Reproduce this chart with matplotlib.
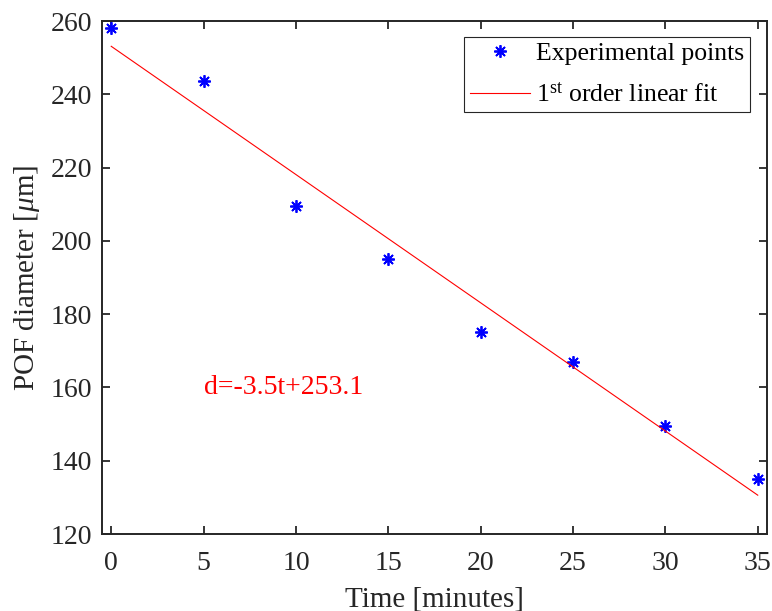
import numpy as np
import matplotlib
matplotlib.use('Agg')
import matplotlib.pyplot as plt

# measured data
time_min = [0, 5, 10, 15, 20, 25, 30, 35]
diameter_um = [258.0, 243.5, 209.5, 195.0, 175.0, 167.0, 149.5, 135.0]

# linear fit coefficients (as written on the chart)
slope = -3.5
intercept = 253.1
fit_label = 'd=-3.5t+253.1'

xticks = [0, 5, 10, 15, 20, 25, 30, 35]
yticks = [120, 140, 160, 180, 200, 220, 240, 260]

matplotlib.rcParams.update({'font.family': 'Liberation Serif',
                            'mathtext.fontset': 'custom',
                            'mathtext.rm': 'Liberation Serif',
                            'mathtext.it': 'Liberation Serif:italic',
                            'font.size': 20})

fig = plt.figure(figsize=(7.72, 6.11), dpi=100)
ax = fig.add_axes([0.1321, 0.126, 0.8614, 0.8396])

fit_t = np.array([time_min[0], time_min[-1]])
ax.plot(time_min, diameter_um, linestyle='none', marker=(8, 2, 0), markersize=9,
        markeredgewidth=1.3, color='#0000ff', label='Experimental points')
ax.plot(fit_t, slope * fit_t + intercept, color='#ff0000', linewidth=0.8,
        label=r'1$^{\rm st}$ order linear fit')

ax.text(5, 160, fit_label, color='#ff0000', fontsize=20, va='center', ha='left')

ax.set_xlim(-0.5, 35.5)
ax.set_ylim(120, 260)
ax.set_xticks(xticks)
ax.set_yticks(yticks)
ax.tick_params(direction='in', length=6, width=1.3, colors='#262626',
               top=True, right=True, labelsize=20)
ax.tick_params(axis='x', pad=12.5)
ax.tick_params(axis='y', pad=7)
for s in ax.spines.values():
    s.set_linewidth(1.4)
    s.set_color('#262626')

ax.set_xlabel('Time [minutes]', fontsize=21, color='#262626', labelpad=7)
ax.set_ylabel(r'POF diameter [$\mu$m]', fontsize=21, color='#262626', labelpad=6)

leg = ax.legend(loc='upper right', bbox_to_anchor=(0.974, 0.969), fontsize=18.5,
                fancybox=False, framealpha=1, edgecolor='#262626',
                handlelength=2.35, handletextpad=0.25, borderpad=0.2,
                borderaxespad=0, labelspacing=0.69)
leg.get_frame().set_linewidth(0.8)

plt.savefig('out.png', dpi=100)
